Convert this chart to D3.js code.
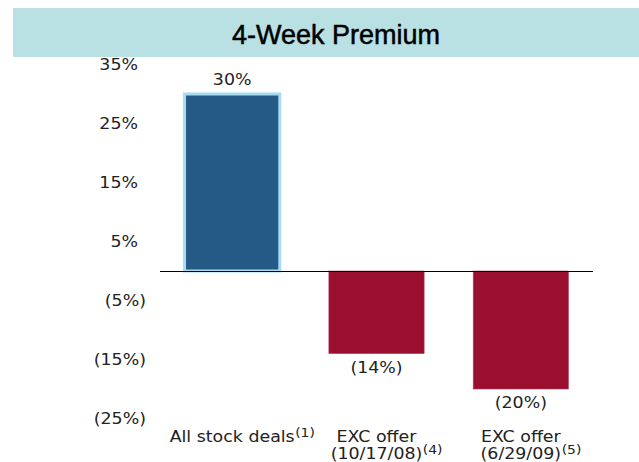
<!DOCTYPE html>
<html>
<head>
<meta charset="utf-8">
<script src="https://cdn.jsdelivr.net/npm/d3@7"></script>
<style>
  html, body { margin: 0; padding: 0; background: #fff; }
</style>
</head>
<body>
<div id="chart"></div>
<script>
(function () {
  "use strict";

  const categories = ["All stock deals", "EXC offer 10/17/08", "EXC offer 6/29/09"];
  const values = [30, -14, -20];
  const labelLines = [["All stock deals"], ["EXC offer", "(10/17/08)"], ["EXC offer", "(6/29/09)"]];
  const footnotes = ["(1)", "(4)", "(5)"];
  const tickValues = [35, 25, 15, 5, -5, -15, -25];

  const W = 639, H = 462;
  const SX = 1.16; // body text is drawn wide in the original
  const font = "DejaVu Sans, Verdana, sans-serif";
  const fmt = v => v < 0 ? `(${Math.abs(v)}%)` : `${v}%`;

  const svg = d3.select("#chart").append("svg")
    .attr("width", W)
    .attr("height", H)
    .style("display", "block");

  function wideText(parent, x, y, str, anchor, size) {
    return parent.append("text")
      .attr("transform", `translate(${x},${y}) scale(${SX},1)`)
      .attr("text-anchor", anchor)
      .attr("font-family", font)
      .attr("font-size", size + "px")
      .attr("fill", "#222")
      .text(str);
  }

  // Title band
  svg.append("rect")
    .attr("x", 13).attr("y", 8)
    .attr("width", W - 13).attr("height", 49)
    .attr("fill", "#b9e0e3");
  svg.append("text")
    .attr("x", 336).attr("y", 44)
    .attr("text-anchor", "middle")
    .attr("font-family", "Liberation Sans, Arial, sans-serif")
    .attr("font-size", "27px")
    .attr("fill", "#000")
    .attr("stroke", "#000")
    .attr("stroke-width", 0.5)
    .text("4-Week Premium");

  const x = d3.scaleBand().domain(categories).range([160, 593])
    .paddingInner(0.34).paddingOuter(0.17);
  const y = d3.scaleLinear().domain([-25, 35]).range([418.5, 64.5]);

  // Y axis tick labels (no axis line, no tick marks)
  const yAxis = svg.append("g");
  tickValues.forEach(v => {
    wideText(yAxis, v < 0 ? 146 : 138, y(v) + 5.5, fmt(v), "end", 15);
  });

  // Bars
  svg.append("g").selectAll("rect")
    .data(values)
    .join("rect")
    .attr("x", (d, i) => x(categories[i]))
    .attr("width", x.bandwidth())
    .attr("y", d => y(Math.max(0, d)))
    .attr("height", d => Math.abs(y(d) - y(0)))
    .attr("fill", d => d >= 0 ? "#255a87" : "#9b0f2e")
    .attr("stroke", d => d >= 0 ? "#a6dbf2" : "#b0405a")
    .attr("stroke-width", d => d >= 0 ? 3 : 0.6);

  // Zero line
  svg.append("line")
    .attr("x1", 160).attr("x2", 593)
    .attr("y1", y(0) + 0.5).attr("y2", y(0) + 0.5)
    .attr("stroke", "#000")
    .attr("stroke-width", 1);

  // Value labels
  const vals = svg.append("g");
  values.forEach((v, i) => {
    const cx = x(categories[i]) + x.bandwidth() / 2;
    wideText(vals, cx, v >= 0 ? y(v) - 9 : y(v) + 19, fmt(v), "middle", 15);
  });

  // Category labels with footnote superscripts
  const cats = svg.append("g");
  labelLines.forEach((lines, i) => {
    const cx = x(categories[i]) + x.bandwidth() / 2;
    lines.forEach((line, j) => {
      const ty = 442 + j * 16.5;
      const t = wideText(cats, cx, ty, line, "middle", 15);
      if (j === lines.length - 1) {
        const w = t.node().getComputedTextLength() * SX;
        wideText(cats, cx + w / 2 + 0.5, ty - 5, footnotes[i], "start", 12);
      }
    });
  });
})();
</script>
</body>
</html>
